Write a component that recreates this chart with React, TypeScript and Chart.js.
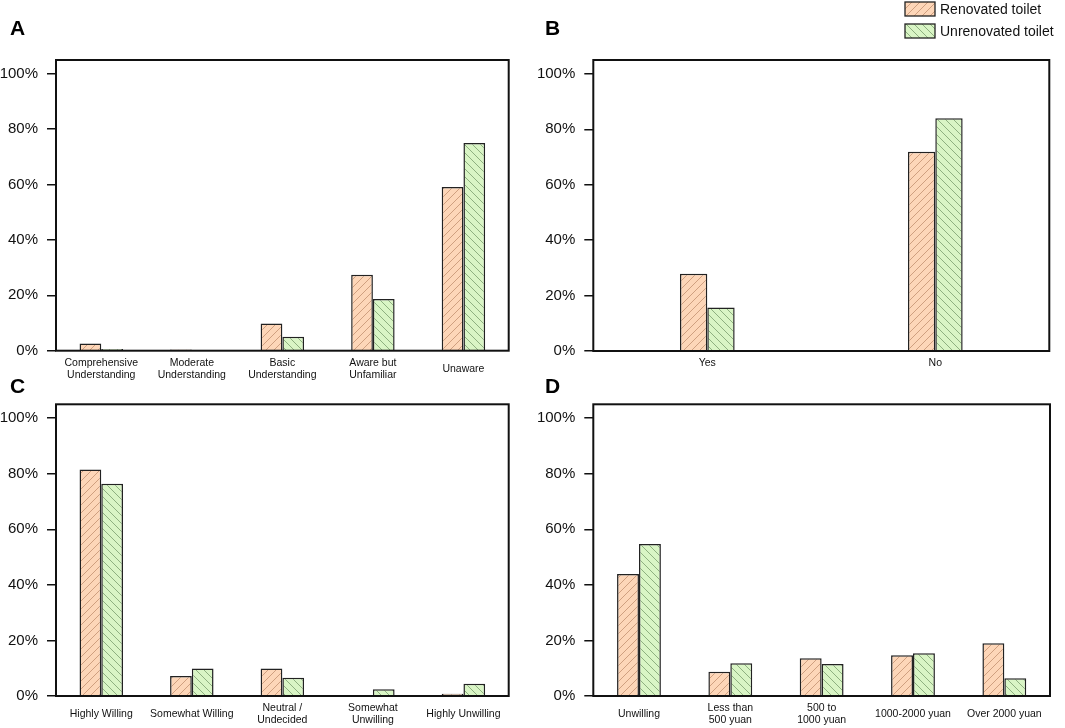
import { useEffect, useRef } from 'react';
import { Chart, registerables } from 'chart.js';

Chart.register(...registerables);

// series names
const seriesNames = ['Renovated toilet', 'Unrenovated toilet'];
const yTicks = [0, 20, 40, 60, 80, 100];

// A - awareness
const aCategories = [
  ['Comprehensive', 'Understanding'],
  ['Moderate', 'Understanding'],
  ['Basic', 'Understanding'],
  ['Aware but', 'Unfamiliar'],
  'Unaware',
];
const aRenovated = [2.6, 0.4, 9.8, 27.4, 59.1];
const aUnrenovated = [0.6, 0, 5.0, 18.7, 75.0];

// B - yes / no
const bCategories = ['Yes', 'No'];
const bRenovated = [27.9, 71.9];
const bUnrenovated = [15.7, 84.0];

// C - willingness
const cCategories = [
  'Highly Willing',
  'Somewhat Willing',
  ['Neutral /', 'Undecided'],
  ['Somewhat', 'Unwilling'],
  'Highly Unwilling',
];
const cRenovated = [81.5, 7.2, 9.9, 0.4, 0.8];
const cUnrenovated = [76.4, 9.9, 6.6, 2.4, 4.4];

// D - payment
const dCategories = [
  'Unwilling',
  ['Less than', '500 yuan'],
  ['500 to', '1000 yuan'],
  '1000-2000 yuan',
  'Over 2000 yuan',
];
const dRenovated = [43.9, 8.7, 13.6, 14.7, 19.0];
const dUnrenovated = [54.7, 11.8, 11.5, 15.4, 6.4];

const FONT = 'Arial, "Liberation Sans", Helvetica, sans-serif';

function hatch(fill: string, line: string, forward: boolean) {
  const s = 8;
  const c = document.createElement('canvas');
  c.width = s;
  c.height = s;
  const g = c.getContext('2d')!;
  g.fillStyle = fill;
  g.fillRect(0, 0, s, s);
  g.strokeStyle = line;
  g.lineWidth = 0.9;
  g.beginPath();
  if (forward) {
    g.moveTo(0, s); g.lineTo(s, 0);
    g.moveTo(-1, 1); g.lineTo(1, -1);
    g.moveTo(s - 1, s + 1); g.lineTo(s + 1, s - 1);
  } else {
    g.moveTo(0, 0); g.lineTo(s, s);
    g.moveTo(-1, s - 1); g.lineTo(1, s + 1);
    g.moveTo(s - 1, -1); g.lineTo(s + 1, 1);
  }
  g.stroke();
  return g.createPattern(c, 'repeat')!;
}

type PanelProps = {
  letter: string;
  letterX: number;
  letterY: number;
  labels: any[];
  renovated: number[];
  unrenovated: number[];
  left: number;
  top: number;
  width: number;
  height: number;
  padTop: number;
  padRight: number;
  yWidth: number;
  xHeight: number;
  catPct: number;
  legend?: { x: number; y: number };
};

function Panel(p: PanelProps) {
  const ref = useRef<HTMLCanvasElement>(null);

  useEffect(() => {
    if (!ref.current) return;
    const orange = hatch('#fdd6b8', '#c99878', true);
    const green = hatch('#d9f5c5', '#86a878', false);

    const frame = {
      id: 'frame',
      afterDraw(chart: any) {
        const { ctx, chartArea: a } = chart;
        ctx.save();
        ctx.strokeStyle = '#111';
        ctx.lineWidth = 2;
        ctx.strokeRect(a.left, a.top, a.right - a.left, a.bottom - a.top);
        // panel letter
        ctx.fillStyle = '#000';
        ctx.font = `bold 21px ${FONT}`;
        ctx.textBaseline = 'alphabetic';
        ctx.fillText(p.letter, p.letterX, p.letterY);
        // legend
        if (p.legend) {
          chart.data.datasets.forEach((ds: any, i: number) => {
            const y = p.legend!.y + i * 22;
            ctx.fillStyle = ds.backgroundColor;
            ctx.fillRect(p.legend!.x, y, 30, 14);
            ctx.strokeStyle = '#222';
            ctx.lineWidth = 1.3;
            ctx.strokeRect(p.legend!.x, y, 30, 14);
            ctx.fillStyle = '#111';
            ctx.font = `14px ${FONT}`;
            ctx.textBaseline = 'middle';
            ctx.fillText(ds.label, p.legend!.x + 35, y + 8);
          });
        }
        ctx.restore();
      },
    };

    const chart = new Chart(ref.current, {
      type: 'bar',
      data: {
        labels: p.labels,
        datasets: [
          {
            label: seriesNames[0],
            data: p.renovated,
            backgroundColor: orange as any,
            borderColor: '#222',
            borderWidth: 1.5,
          },
          {
            label: seriesNames[1],
            data: p.unrenovated,
            backgroundColor: green as any,
            borderColor: '#222',
            borderWidth: 1.5,
          },
        ],
      },
      options: {
        animation: false,
        responsive: true,
        maintainAspectRatio: false,
        datasets: { bar: { categoryPercentage: p.catPct, barPercentage: 1 } },
        layout: { padding: { top: p.padTop, right: p.padRight, left: 0, bottom: 0 } },
        plugins: { legend: { display: false }, tooltip: { enabled: false } },
        scales: {
          x: {
            grid: { display: false, drawTicks: false },
            border: { display: false },
            ticks: {
              color: '#111',
              padding: 12,
              crossAlign: 'center',
              maxRotation: 0,
              autoSkip: false,
              font: { family: FONT, size: 10.5, lineHeight: 1.17 },
            },
            afterFit: (s: any) => { s.height = p.xHeight; },
          },
          y: {
            min: 0,
            max: 105,
            grid: {
              display: true,
              drawOnChartArea: false,
              drawTicks: true,
              tickLength: 9,
              color: '#111',
              lineWidth: 1.5,
            },
            border: { display: false },
            ticks: {
              color: '#111',
              padding: 9,
              font: { family: FONT, size: 15 },
              callback: (v: any) => `${v}%`,
            },
            afterBuildTicks: (s: any) => { s.ticks = yTicks.map((v) => ({ value: v })); },
            afterFit: (s: any) => { s.width = p.yWidth; },
          },
        },
      },
      plugins: [frame],
    });
    return () => chart.destroy();
  }, []);

  return (
    <div style={{ position: 'absolute', left: p.left, top: p.top, width: p.width, height: p.height }}>
      <canvas ref={ref} />
    </div>
  );
}

export default function App() {
  return (
    <div style={{ position: 'absolute', left: 0, top: 0, width: 1065, height: 728, background: '#fff' }}>
      <Panel letter="A" letterX={10} letterY={35} labels={aCategories} renovated={aRenovated} unrenovated={aUnrenovated}
        left={0} top={0} width={530} height={380} padTop={60} padRight={21.3} yWidth={56} xHeight={29.3} catPct={0.48} />
      <Panel letter="B" letterX={15} letterY={35} labels={bCategories} renovated={bRenovated} unrenovated={bUnrenovated}
        left={530} top={0} width={535} height={380} padTop={60} padRight={15.7} yWidth={63.3} xHeight={29} catPct={0.24}
        legend={{ x: 375, y: 2 }} />
      <Panel letter="C" letterX={10} letterY={23} labels={cCategories} renovated={cRenovated} unrenovated={cUnrenovated}
        left={0} top={370} width={530} height={358} padTop={34.3} padRight={21.3} yWidth={56} xHeight={32} catPct={0.48} />
      <Panel letter="D" letterX={15} letterY={23} labels={dCategories} renovated={dRenovated} unrenovated={dUnrenovated}
        left={530} top={370} width={535} height={358} padTop={34.3} padRight={15} yWidth={63.3} xHeight={32} catPct={0.48} />
    </div>
  );
}
